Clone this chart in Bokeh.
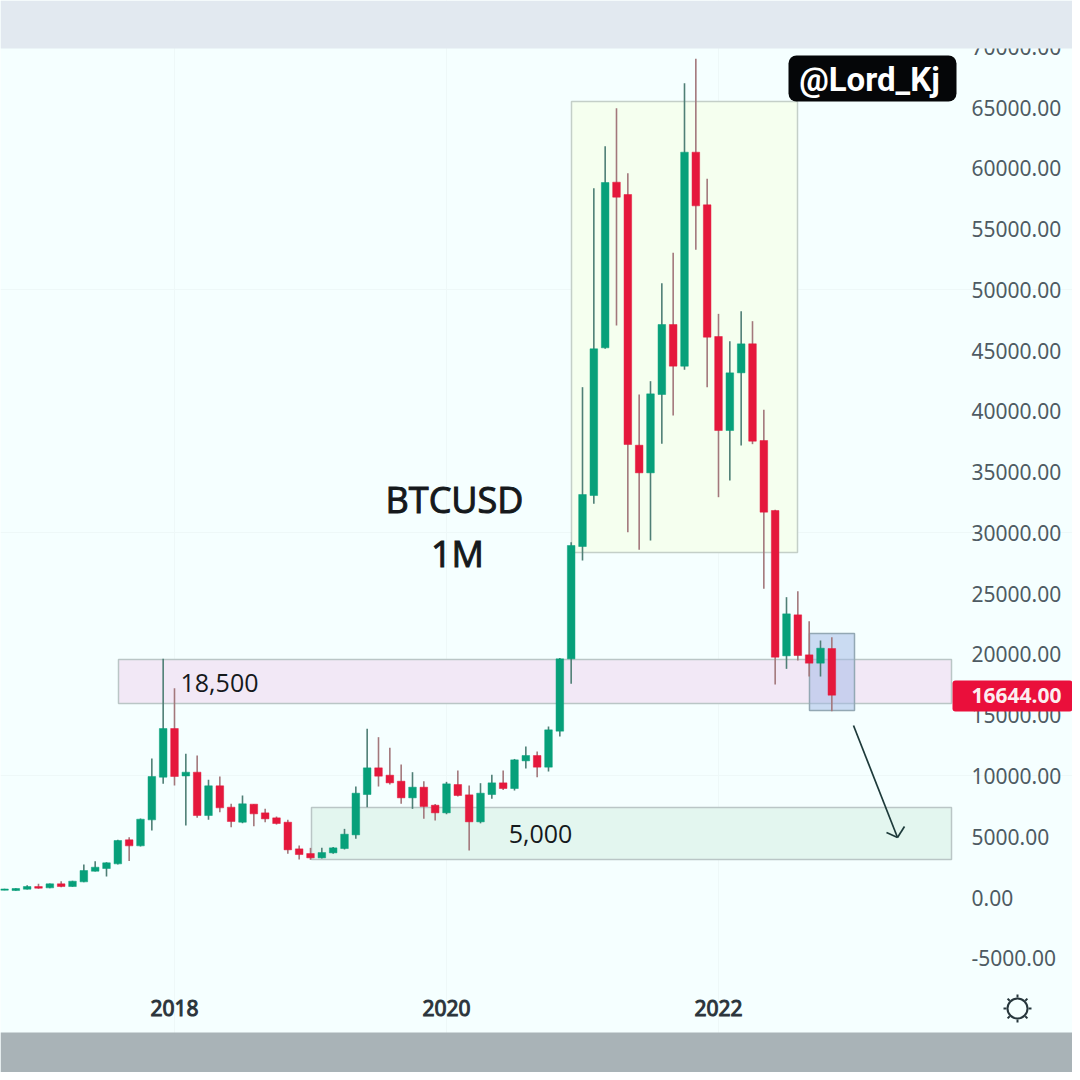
from bokeh.plotting import figure
from bokeh.models import (BoxAnnotation, ColumnDataSource, FixedTicker, Grid, Label,
                          LinearAxis, PrintfTickFormatter)
from bokeh.embed import file_html
from bokeh.resources import INLINE
import math

months = ["2016-10","2016-11","2016-12",
 "2017-01","2017-02","2017-03","2017-04","2017-05","2017-06","2017-07","2017-08","2017-09","2017-10","2017-11","2017-12",
 "2018-01","2018-02","2018-03","2018-04","2018-05","2018-06","2018-07","2018-08","2018-09","2018-10","2018-11","2018-12",
 "2019-01","2019-02","2019-03","2019-04","2019-05","2019-06","2019-07","2019-08","2019-09","2019-10","2019-11","2019-12",
 "2020-01","2020-02","2020-03","2020-04","2020-05","2020-06","2020-07","2020-08","2020-09","2020-10","2020-11","2020-12",
 "2021-01","2021-02","2021-03","2021-04","2021-05","2021-06","2021-07","2021-08","2021-09","2021-10","2021-11","2021-12",
 "2022-01","2022-02","2022-03","2022-04","2022-05","2022-06","2022-07","2022-08","2022-09","2022-10","2022-11"]
opens = [600,573,683,
 902,793,1122,902,1287,2164,2384,2768,4743,4249,6388,9900,
 13904,10002,10311,6745,9186,7431,6196,7678,6964,6553,6196,4002,
 3618,3262,3673,4030,5154,8473,10668,10064,9570,8199,9077,7595,
 6965,9296,8446,6224,8473,9433,8967,11244,11683,10723,13685,19637,
 28878,33075,45226,58856,57841,37216,34940,41386,47146,43717,61325,56991,
 46159,38423,43169,45555,37601,31840,19883,23257,19965,19280,20486]
closes = [700,738,902,
 765,1122,902,1342,2219,2493,2850,4688,4249,6443,9955,13904,
 9955,10311,6745,9186,7376,6251,7705,6882,6471,6087,3920,3535,
 3262,3700,4084,5209,8583,10668,9982,9433,8199,9077,7486,6965,
 9351,8391,6224,8583,9433,8967,11326,11683,10723,13795,19637,28963,
 33157,45144,58829,57622,37271,34940,41441,47146,43717,61325,56909,46104,
 38423,43169,45555,37546,31703,19773,23339,19910,19280,20514,16644]
highs = [710,760,1000,
 1122,1150,1342,1370,2713,2988,2900,4750,4962,6500,11436,19637,
 17223,11820,11683,9680,9955,7705,8391,7700,7294,6663,6388,4276,
 4084,4084,4150,5648,9132,13877,13191,12313,10942,10311,9570,7700,
 9516,10448,9214,9406,10092,10448,11400,12423,12012,14069,19700,29235,
 41989,58362,61819,64946,59597,41386,42483,50545,53041,67003,69005,59130,
 48024,45775,48243,47420,40124,31895,24711,25204,22736,21145,21419]
lows = [600,550,660,
 711,770,848,880,1260,2140,1726,2713,3000,4194,5511,9351,
 9214,5922,6553,6388,7020,5785,6100,5868,6196,6000,3590,3124,
 3097,3200,3600,3950,4825,7431,9132,9300,7705,7294,6471,6334,
 6850,8300,3865,6100,8116,8850,8802,10613,9900,10366,13246,17580,
 27728,32389,45144,47064,30057,28604,29372,37326,39658,43416,53288,41989,
 32937,34309,37189,37300,25397,17524,18813,19499,18182,18182,15330]

y_ticks = list(range(-5000, 70001, 5000))
x_ticks = [2018, 2020, 2022]

# reference pixel -> data helpers
def X(px): return 2018 + (px - 174) / 136
def Y(py): return (897 - py) * 82.28

W = 1072
BG = "#f5ffff"
GREEN, RED = "#07a07a", "#e5183c"
WICK_G, WICK_R = "#4f7f76", "#a3787c"

p = figure(width=W, height=W, output_backend="svg", toolbar_location=None,
           x_axis_type=None, y_axis_type=None, min_border=0,
           x_range=(X(0), X(W)), y_range=(Y(W), Y(0)),
           background_fill_color=BG, border_fill_color=BG, outline_line_color=None)

# axes drawn inside the frame
yax = LinearAxis(fixed_location=X(968), ticker=FixedTicker(ticks=y_ticks),
                 formatter=PrintfTickFormatter(format="%.2f"),
                 axis_line_color=None, major_tick_line_color=None, minor_tick_line_color=None,
                 major_tick_out=0, major_tick_in=0, major_label_standoff=3,
                 major_label_text_font="Noto Sans", major_label_text_font_size="21px",
                 major_label_text_color="#4e5b63")
p.add_layout(yax, "right")
xax = LinearAxis(fixed_location=Y(996), ticker=FixedTicker(ticks=x_ticks),
                 formatter=PrintfTickFormatter(format="%d"),
                 axis_line_color=None, major_tick_line_color=None, minor_tick_line_color=None,
                 major_tick_out=0, major_tick_in=0, major_label_standoff=3,
                 major_label_text_font="Noto Sans", major_label_text_font_size="21px",
                 major_label_text_color="#2b343b", major_label_text_outline_color="#2b343b")
p.add_layout(xax, "below")
p.add_layout(Grid(dimension=0, ticker=FixedTicker(ticks=x_ticks), grid_line_color="#eef8f8"))
p.add_layout(Grid(dimension=1, ticker=FixedTicker(ticks=[10000, 30000, 50000]), grid_line_color="#eef8f8"))

# zones
ZONE_LINE = "#bac6c6"
p.quad(left=[X(118)], right=[X(951)], top=[19583], bottom=[15963], fill_color="#f2e8f6",
       line_color=ZONE_LINE, line_width=1.5)
p.quad(left=[X(311)], right=[X(951)], top=[7405], bottom=[3127], fill_color="#e3f6ef",
       line_color=ZONE_LINE, line_width=1.5)
p.quad(left=[X(571)], right=[X(797)], top=[65494], bottom=[28387], fill_color="#f5ffef",
       line_color="#c4cfc8", line_width=1.5)
p.quad(left=[X(809)], right=[X(854)], top=[21722], bottom=[15386], fill_color="#a0b8e6",
       fill_alpha=0.5, line_color="#93a8b4", line_width=1.5)

# candles
xs = [int(m[:4]) + (int(m[5:]) - 1) / 12 for m in months]
up = [c >= o for o, c in zip(opens, closes)]
src = ColumnDataSource(dict(
    x=xs, o=opens, c=closes, h=highs, l=lows,
    top=[max(o, c) for o, c in zip(opens, closes)],
    bottom=[min(o, c) for o, c in zip(opens, closes)],
    body=[GREEN if u else RED for u in up],
    wick=[WICK_G if u else WICK_R for u in up]))
p.segment(x0="x", x1="x", y0="l", y1="h", source=src, line_color="wick", line_width=1.6)
p.vbar(x="x", width=7.6 / 136, top="top", bottom="bottom", source=src,
       fill_color="body", line_color="body", line_width=0.5)

# labels
TXT = "#15191c"
def label(px, py, text, size, color=TXT, font="Open Sans", style="normal", align="center", outline=None):
    p.add_layout(Label(x=X(px), y=Y(py), text=text, text_font=font, text_font_size=size,
                       text_color=color, text_font_style=style, text_align=align,
                       text_outline_color=outline,
                       text_baseline="middle", level="overlay"))
label(454, 499, "BTCUSD", "36px", outline=TXT)
label(457, 553, "1M", "36px", outline=TXT)
label(219, 682, "18,500", "25px")
label(540, 833, "5,000", "25px")

# arrow
ARROW = "#1d3a3a"
p.segment(x0=[X(853), X(886), X(904)], y0=[Y(725), Y(832), Y(826)],
          x1=[X(897), X(897), X(897)], y1=[Y(837), Y(837), Y(837)],
          line_color=ARROW, line_width=1.7, level="overlay")

# price tag
last = closes[-1]
p.add_layout(BoxAnnotation(left=X(952), right=X(W), top=Y(680), bottom=Y(711), fill_color="#ea0f3b",
                           fill_alpha=1, line_alpha=0, border_radius=3, level="overlay"))
label(971, 695, "%.2f" % last, "21px", color="#fbeef0", style="bold", align="left", font="Noto Sans")

# watermark
p.add_layout(BoxAnnotation(left=X(788), right=X(956), top=Y(55), bottom=Y(101), fill_color="#050608",
                           fill_alpha=1, line_alpha=0, border_radius=8, level="overlay"))
label(869, 79, "@Lord_Kj", "33px", color="#ffffff", style="bold", font="Roboto")

# settings icon
cx, cy, r0, r1 = 1017, 1008, 11, 14
ang = [i * math.pi / 4 for i in range(8)]
p.segment(x0=[X(cx + r0 * math.cos(a)) for a in ang], y0=[Y(cy + r0 * math.sin(a)) for a in ang],
          x1=[X(cx + r1 * math.cos(a)) for a in ang], y1=[Y(cy + r1 * math.sin(a)) for a in ang],
          line_color="#27363c", line_width=2)
p.scatter(x=[X(cx)], y=[Y(cy)], size=20, marker="circle", fill_color=BG, line_color="#27363c", line_width=2)

# top and bottom bands
p.add_layout(BoxAnnotation(left=X(0), right=X(W), top=Y(0), bottom=Y(48), fill_color="#e2e9f0",
                           fill_alpha=1, line_alpha=0, level="overlay"))
p.add_layout(BoxAnnotation(left=X(0), right=X(W), top=Y(1032), bottom=Y(W), fill_color="#a9b3b7",
                           fill_alpha=1, line_alpha=0, level="overlay"))

open("out.html", "w").write(file_html(p, INLINE))
